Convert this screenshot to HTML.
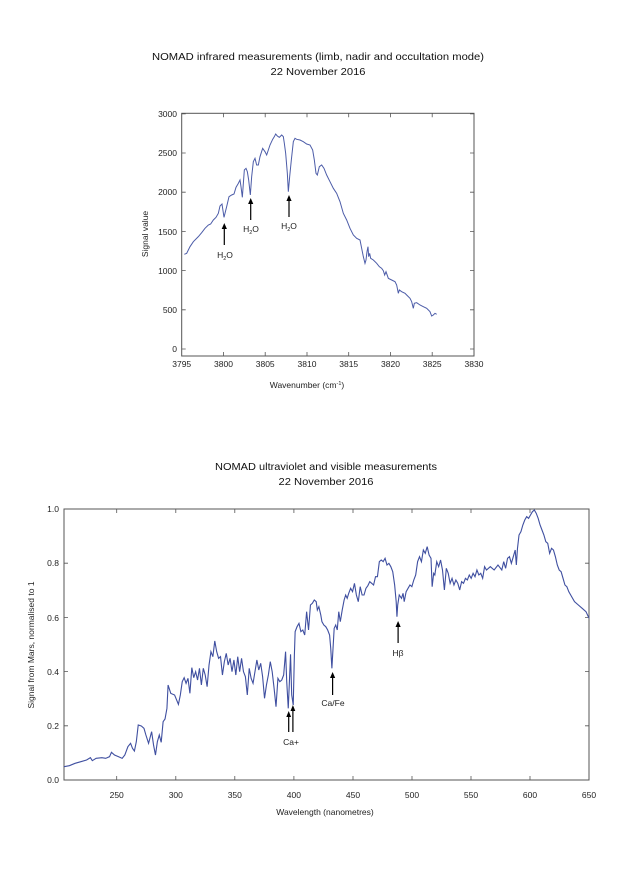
<!DOCTYPE html>
<html><head><meta charset="utf-8"><style>
html,body{margin:0;padding:0;background:#fff;}
svg{display:block;font-family:"Liberation Sans",sans-serif;}
</style></head><body>
<svg width="625" height="884" viewBox="0 0 625 884" xmlns="http://www.w3.org/2000/svg">
<rect width="625" height="884" fill="#fff"/>
<g fill="#111" font-size="10.5" text-anchor="middle">
<text x="318" y="60" textLength="332" lengthAdjust="spacingAndGlyphs">NOMAD infrared measurements (limb, nadir and occultation mode)</text>
<text x="318" y="75" textLength="95" lengthAdjust="spacingAndGlyphs">22 November 2016</text>
<text x="326" y="470" textLength="222" lengthAdjust="spacingAndGlyphs">NOMAD ultraviolet and visible measurements</text>
<text x="326" y="485" textLength="95" lengthAdjust="spacingAndGlyphs">22 November 2016</text>
</g>
<!-- TOP CHART -->
<rect x="181.7" y="113.3" width="292.3" height="242.7" fill="none" stroke="#555" stroke-width="1"/>
<g stroke="#555" stroke-width="0.8">
<path d="M181.7 349h4M181.7 309.8h4M181.7 270.6h4M181.7 231.4h4M181.7 192.2h4M181.7 153h4M181.7 113.8h4"/>
<path d="M474 349h-4M474 309.8h-4M474 270.6h-4M474 231.4h-4M474 192.2h-4M474 153h-4M474 113.8h-4"/>
<path d="M223.5 356v-4M265.2 356v-4M307 356v-4M348.7 356v-4M390.5 356v-4M432.2 356v-4"/>
<path d="M223.5 113.3v4M265.2 113.3v4M307 113.3v4M348.7 113.3v4M390.5 113.3v4M432.2 113.3v4"/>
</g>
<g fill="#222" font-size="8.5" text-anchor="end">
<text x="177" y="352">0</text><text x="177" y="313">500</text><text x="177" y="274">1000</text><text x="177" y="235">1500</text><text x="177" y="195">2000</text><text x="177" y="156">2500</text><text x="177" y="117">3000</text>
</g>
<g fill="#222" font-size="8.5" text-anchor="middle">
<text x="181.7" y="367">3795</text><text x="223.5" y="367">3800</text><text x="265.2" y="367">3805</text><text x="307" y="367">3810</text><text x="348.7" y="367">3815</text><text x="390.5" y="367">3820</text><text x="432.2" y="367">3825</text><text x="474" y="367">3830</text>
<text x="307" y="388">Wavenumber (cm<tspan font-size="5.5" dy="-3">-1</tspan><tspan dy="3">)</tspan></text>
<text transform="translate(148,234) rotate(-90)">Signal value</text>
</g>
<g transform="translate(130,100) scale(0.33333)">
<polyline fill="none" stroke="#4c5ca8" stroke-width="1" vector-effect="non-scaling-stroke" points="163,463 170,460 180,440 190,425 205,410 215,398 225,385 235,375 242,372 250,360 258,352 265,340 270,318 276,312 282,352 290,320 297,290 305,285 312,282 318,262 325,250 330,240 333,260 337,292 343,210 348,205 352,215 356,240 361,285 365,230 370,185 375,175 380,195 385,195 390,170 398,145 405,155 410,165 415,150 420,135 428,118 433,110 437,102 442,108 448,112 455,105 460,110 463,130 467,160 472,220 475,275 479,230 484,180 490,125 495,115 500,118 510,120 520,125 530,132 540,135 548,150 553,180 558,220 562,225 568,200 575,195 582,205 590,225 600,245 610,265 620,280 630,305 640,340 650,360 660,385 670,405 680,415 690,420 695,445 700,470 705,490 708,480 711,455 714,440 716,470 719,460 722,475 730,480 740,490 748,500 755,505 760,512 764,525 768,515 775,535 785,540 795,545 800,555 805,580 808,570 815,575 825,580 830,585 840,595 845,605 850,625 853,610 860,608 870,615 880,620 890,625 900,635 905,648 910,645 915,640 920,643"/>
</g>
<g stroke="#000" stroke-width="1.2">
<path d="M224.3 245V228M250.7 220V203M289 217V200"/>
</g>
<g fill="#000">
<path d="M224.3 223l-2.6 6h5.2z"/><path d="M250.7 198l-2.6 6h5.2z"/><path d="M289 195l-2.6 6h5.2z"/>
</g>
<g fill="#222" font-size="8.5" text-anchor="middle">
<text x="225" y="258">H<tspan font-size="5.5" dy="2">2</tspan><tspan dy="-2">O</tspan></text>
<text x="251" y="232">H<tspan font-size="5.5" dy="2">2</tspan><tspan dy="-2">O</tspan></text>
<text x="289" y="229">H<tspan font-size="5.5" dy="2">2</tspan><tspan dy="-2">O</tspan></text>
</g>
<!-- BOTTOM CHART -->
<rect x="64" y="509" width="525" height="271" fill="none" stroke="#555" stroke-width="1"/>
<g stroke="#555" stroke-width="0.8">
<path d="M64 725.8h4M64 671.6h4M64 617.4h4M64 563.2h4M585 725.8h4M585 671.6h4M585 617.4h4M585 563.2h4"/>
<path d="M116.7 780v-4M175.8 780v-4M234.8 780v-4M293.9 780v-4M353 780v-4M412 780v-4M471 780v-4M530 780v-4"/>
<path d="M116.7 509v4M175.8 509v4M234.8 509v4M293.9 509v4M353 509v4M412 509v4M471 509v4M530 509v4"/>
</g>
<g fill="#222" font-size="8.5" text-anchor="end">
<text x="59" y="783">0.0</text><text x="59" y="729">0.2</text><text x="59" y="675">0.4</text><text x="59" y="621">0.6</text><text x="59" y="566">0.8</text><text x="59" y="512">1.0</text>
</g>
<g fill="#222" font-size="8.5" text-anchor="middle">
<text x="116.7" y="798">250</text><text x="175.8" y="798">300</text><text x="234.8" y="798">350</text><text x="293.9" y="798">400</text><text x="353" y="798">450</text><text x="412" y="798">500</text><text x="471" y="798">550</text><text x="530" y="798">600</text><text x="589" y="798">650</text>
<text x="325" y="815">Wavelength (nanometres)</text>
<text transform="translate(34,645) rotate(-90)">Signal from Mars, normalised to 1</text>
</g>
<g transform="translate(19.6,495) scale(0.3827,0.33333)">
<polyline fill="none" stroke="#3f4fa0" stroke-width="1.1" vector-effect="non-scaling-stroke" points="116,815 130,812 145,805 160,800 175,795 185,788 190,797 200,790 215,788 225,790 235,785 240,772 248,780 258,785 268,790 275,780 283,755 290,745 295,760 300,768 305,740 310,690 318,693 325,700 330,720 337,745 345,710 350,750 355,780 360,740 365,720 370,742 375,680 380,672 385,640 388,570 395,595 405,600 415,628 420,600 425,560 430,548 435,565 440,550 445,595 450,518 455,548 460,530 465,555 470,520 475,570 480,520 485,540 490,575 495,510 500,470 505,485 510,438 515,470 520,490 525,485 530,540 535,500 540,475 545,510 550,490 555,530 560,495 565,540 570,485 575,530 580,490 585,530 590,545 595,600 600,520 605,550 610,565 615,530 620,495 625,525 630,505 635,545 640,610 645,570 650,540 655,500 660,530 665,580 670,635 675,550 680,560 685,555 690,540 695,470 698,560 702,640 705,560 708,478 711,600 715,630 718,480 720,410 725,395 730,385 735,410 740,405 745,420 750,350 755,405 760,330 765,325 770,315 775,320 778,345 782,335 787,360 790,380 795,390 800,395 805,405 810,420 813,460 816,520 818,480 822,400 826,390 830,405 834,350 838,380 843,345 848,315 852,300 856,310 860,295 865,280 870,290 875,265 880,300 885,320 890,275 895,300 900,300 905,280 910,272 915,260 920,265 925,270 930,245 935,245 940,200 945,195 950,200 955,190 960,210 965,205 970,215 975,230 980,270 984,320 986,365 988,330 992,300 998,310 1002,295 1005,320 1010,290 1015,280 1020,270 1025,275 1030,255 1035,240 1040,200 1045,185 1050,200 1055,165 1060,175 1065,155 1070,180 1075,190 1078,275 1082,235 1085,240 1090,200 1095,215 1100,195 1105,225 1110,285 1115,220 1120,235 1125,265 1130,250 1135,270 1140,255 1145,265 1150,285 1155,260 1160,265 1165,250 1170,255 1175,240 1180,250 1185,235 1190,245 1195,225 1200,240 1205,235 1210,250 1215,215 1220,225 1230,215 1240,225 1250,210 1260,225 1265,200 1270,220 1275,190 1280,185 1285,205 1290,185 1295,165 1298,210 1301,160 1305,120 1310,110 1315,90 1320,75 1325,65 1330,70 1335,60 1340,50 1345,45 1350,55 1355,70 1360,90 1365,105 1370,120 1375,140 1380,145 1385,175 1390,160 1395,165 1400,185 1405,210 1410,225 1415,230 1420,250 1425,270 1430,275 1435,290 1440,300 1450,320 1460,330 1470,340 1480,350 1488,370"/>
</g>
<g stroke="#000" stroke-width="1.2">
<path d="M288.7 732V716M292.9 732V710M332.6 695V677M398.1 643V626"/>
</g>
<g fill="#000">
<path d="M288.7 711l-2.4 6h4.8z"/><path d="M292.9 705l-2.4 6h4.8z"/><path d="M332.6 672l-2.6 6h5.2z"/><path d="M398.1 621l-2.6 6h5.2z"/>
</g>
<g fill="#222" font-size="8.5" text-anchor="middle">
<text x="291" y="745">Ca+</text>
<text x="333" y="706">Ca/Fe</text>
<text x="398" y="656">Hβ</text>
</g>
</svg>
</body></html>
